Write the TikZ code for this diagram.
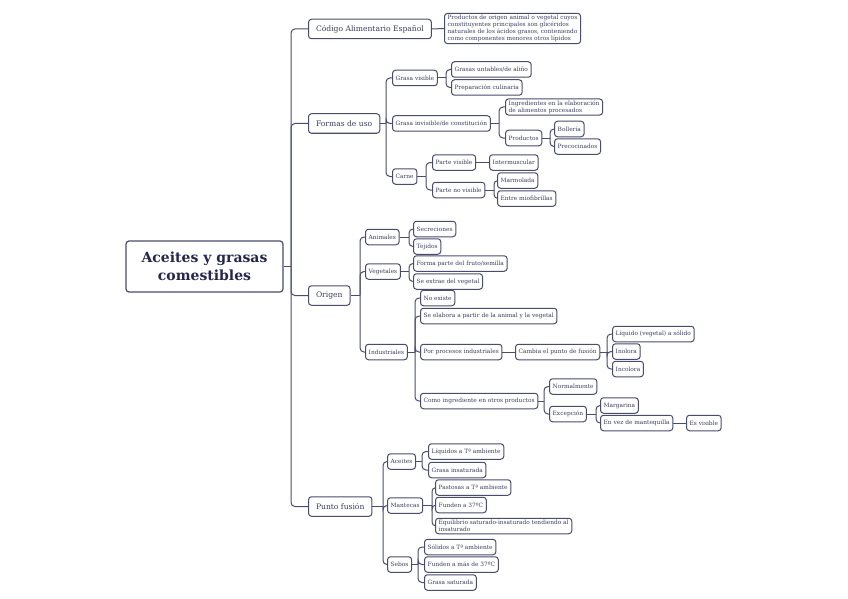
\documentclass[tikz,border=0pt]{standalone}
\usepackage{fontspec}
\setmainfont{DejaVu Serif}
\usetikzlibrary{backgrounds}
\definecolor{ink}{HTML}{3B3D5E}
\definecolor{edge}{HTML}{4A4C6C}
\definecolor{rootink}{HTML}{24264A}

\begin{document}
\begin{tikzpicture}[x=1pt, y=-1pt,
    box/.style={draw=edge, line width=1pt, rounded corners=3pt, fill=white,
                text=ink, anchor=west, inner xsep=3.2pt, inner ysep=1.5pt,
                minimum height=15.5pt, font=\fontsize{5.85}{7.2}\selectfont},
    topic/.style={box, minimum height=19.5pt, inner xsep=7.5pt,
                  font=\fontsize{7.6}{9}\selectfont},
    rootbox/.style={box, anchor=center, line width=1.2pt, text=rootink,
                    minimum width=157pt, minimum height=51pt, align=center,
                    font=\bfseries\fontsize{14}{18}\selectfont},
    link/.style={draw=edge, line width=1pt, rounded corners=4pt}]
    \useasboundingbox (0,0) rectangle (848,599);

    % root and main topics
    \node[rootbox] (root) at (204.5,266.5) {Aceites y grasas\\comestibles};
    \node[topic] (cae) at (308,29) {Código Alimentario Español};
    \node[topic] (fu) at (308,123.5) {Formas de uso};
    \node[topic] (or) at (308,295.5) {Origen};
    \node[topic] (pf) at (308,506.5) {Punto fusión};

    \node[box, align=left] (def) at (444,28.5) {Productos de origen animal o vegetal cuyos\\constituyentes principales son glicéridos\\naturales de los ácidos grasos, conteniendo\\como componentes menores otros lípidos};

    % formas de uso
    \node[box] (gv) at (392,78) {Grasa visible};
    \node[box] (gi) at (392,123.5) {Grasa invisible/de constitución};
    \node[box] (ca) at (392,176.5) {Carne};
    \node[box] (gun) at (451,69.5) {Grasas untables/de aliño};
    \node[box] (pcu) at (451,87.5) {Preparación culinaria};
    \node[box, align=left] (ing) at (505,107) {Ingredientes en la elaboración\\de alimentos procesados};
    \node[box] (pro) at (505,138) {Productos};
    \node[box] (bol) at (554,129) {Bollería};
    \node[box] (pre) at (554,146.5) {Precocinados};
    \node[box] (pv) at (432,162.5) {Parte visible};
    \node[box] (pnv) at (432,190) {Parte no visible};
    \node[box] (imu) at (489,162.5) {Intermuscular};
    \node[box] (mar) at (497,180.5) {Marmolada};
    \node[box] (mio) at (497,198.5) {Entre miofibrillas};

    % origen
    \node[box] (an) at (365,237) {Animales};
    \node[box] (ve) at (365,271.5) {Vegetales};
    \node[box] (in) at (365,352) {Industriales};
    \node[box] (sec) at (413,229) {Secreciones};
    \node[box] (tej) at (413,246.5) {Tejidos};
    \node[box] (fru) at (413,263.5) {Forma parte del fruto/semilla};
    \node[box] (ext) at (413,281.5) {Se extrae del vegetal};
    \node[box] (nex) at (420,298) {No existe};
    \node[box] (ela) at (420,316) {Se elabora a partir de la animal y la vegetal};
    \node[box] (ppi) at (420,352) {Por procesos industriales};
    \node[box] (cio) at (420,401) {Como ingrediente en otros productos};
    \node[box] (cpf) at (515,352) {Cambia el punto de fusión};
    \node[box] (liq) at (612,334) {Líquido (vegetal) a sólido};
    \node[box] (ino) at (612,351.5) {Inolora};
    \node[box] (inc) at (612,369) {Incolora};
    \node[box] (nor) at (549,386.5) {Normalmente};
    \node[box] (exc) at (549,414) {Excepción};
    \node[box] (mgr) at (600,405.5) {Margarina};
    \node[box] (evm) at (600,423) {En vez de mantequilla};
    \node[box] (esv) at (686,423) {Es visible};

    % punto de fusion
    \node[box] (ac) at (387,461.5) {Aceites};
    \node[box] (ma) at (387,505.5) {Mantecas};
    \node[box] (se) at (387,564.5) {Sebos};
    \node[box] (lta) at (428,451.5) {Líquidos a Tª ambiente};
    \node[box] (gin) at (428,470) {Grasa insaturada};
    \node[box] (pta) at (435,487.5) {Pastosas a Tª ambiente};
    \node[box] (f37) at (435,505) {Funden a 37ºC};
    \node[box, align=left] (equ) at (435,526) {Equilibrio saturado-insaturado tendiendo al\\insaturado};
    \node[box] (sta) at (424,547) {Sólidos a Tª ambiente};
    \node[box] (fm37) at (424,564.5) {Funden a más de 37ºC};
    \node[box] (gsa) at (424,582.5) {Grasa saturada};

    % junctions
    \coordinate (jroot) at (291,266.5);
    \coordinate (jfu) at (386,123.5);
    \coordinate (jgv) at (446,78);
    \coordinate (jgi) at (499,123.5);
    \coordinate (jpro) at (550,138);
    \coordinate (jca) at (426,176.5);
    \coordinate (jpnv) at (494,190);
    \coordinate (jor) at (360,295.5);
    \coordinate (jan) at (409,237);
    \coordinate (jve) at (409,271.5);
    \coordinate (jin) at (415,352);
    \coordinate (jcpf) at (607,352);
    \coordinate (jcio) at (544,401);
    \coordinate (jexc) at (596,414);
    \coordinate (jpf) at (383,506.5);
    \coordinate (jac) at (422,461.5);
    \coordinate (jma) at (432,505.5);
    \coordinate (jse) at (418,564.5);

    \begin{scope}[on background layer]
        \foreach \p/\cs in {root/{cae,fu,or,pf}, fu/{gv,gi,ca}, gv/{gun,pcu},
                            gi/{ing,pro}, pro/{bol,pre}, ca/{pv,pnv}, pnv/{mar,mio},
                            or/{an,ve,in}, an/{sec,tej}, ve/{fru,ext},
                            in/{nex,ela,ppi,cio}, cpf/{liq,ino,inc}, cio/{nor,exc},
                            exc/{mgr,evm}, pf/{ac,ma,se}, ac/{lta,gin},
                            ma/{pta,f37,equ}, se/{sta,fm37,gsa}}
        {
            \draw[link] (\p.east) -- (j\p);
            \foreach \c in \cs
                \draw[link] (j\p) |- (\c.west);
        }
        \draw[link] (cae.east) -- (def.west);
        \draw[link] (pv.east) -- (imu.west);
        \draw[link] (ppi.east) -- (cpf.west);
        \draw[link] (evm.east) -- (esv.west);
    \end{scope}
\end{tikzpicture}
\end{document}
